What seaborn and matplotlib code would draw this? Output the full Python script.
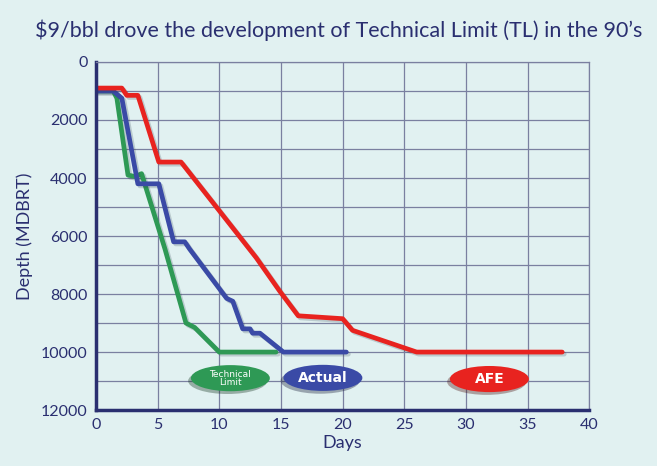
import pandas as pd
import seaborn as sns
import matplotlib.pyplot as plt
import matplotlib.patheffects as pe
from matplotlib.patches import Ellipse

# Data (days, depth MDBRT)
afe_days = [0, 2.1, 2.5, 3.4, 5.1, 6.9, 13.0, 14.9, 16.4, 20.0, 20.8, 26.0, 37.8]
afe_depth = [900, 900, 1150, 1150, 3450, 3450, 6750, 7900, 8750, 8850, 9250, 10000, 10000]

actual_days = [0, 1.4, 2.1, 3.4, 5.1, 6.3, 7.2, 7.6, 10.6, 11.1, 11.9, 12.5, 12.7, 13.3, 15.2, 20.3]
actual_depth = [1000, 1000, 1250, 4200, 4200, 6200, 6200, 6450, 8150, 8250, 9200, 9200, 9350, 9350, 10000, 10000]

tl_days = [0, 1.4, 1.7, 2.6, 3.2, 3.7, 5.6, 7.3, 8.0, 10.0, 14.6]
tl_depth = [1000, 1000, 1250, 3900, 3950, 3850, 6450, 9000, 9150, 10000, 10000]

series = ['AFE', 'Actual', 'Technical Limit']
colors = {'AFE': '#e8231f', 'Actual': '#3a4aa6', 'Technical Limit': '#2e9955'}

df = pd.concat([
    pd.DataFrame({'Days': afe_days, 'Depth': afe_depth, 'series': 'AFE'}),
    pd.DataFrame({'Days': actual_days, 'Depth': actual_depth, 'series': 'Actual'}),
    pd.DataFrame({'Days': tl_days, 'Depth': tl_depth, 'series': 'Technical Limit'}),
])

bg = '#e1f1f1'
navy = '#2a2f70'
sns.set_style('white')
plt.rcParams['font.family'] = ['Lato', 'DejaVu Sans']

fig = plt.figure(figsize=(6.57, 4.66), dpi=100, facecolor=bg)
ax = fig.add_axes([0.146, 0.12, 0.751, 0.747], facecolor=bg)

shadow = [pe.SimpleLineShadow(offset=(1.5, -1.5), alpha=0.2, shadow_color='#223344'), pe.Normal()]
ax.set_axisbelow(True)
sns.lineplot(data=df, x='Days', y='Depth', hue='series', hue_order=series[::-1], palette=colors,
             units='series', estimator=None, sort=False, linewidth=3.4, legend=False, ax=ax,
             path_effects=shadow)

ax.set_xlim(0, 40)
ax.set_ylim(12000, 0)
ax.set_xticks(range(0, 41, 5))
ax.set_yticks(range(0, 12001, 2000))
ax.set_yticks(range(1000, 12000, 2000), minor=True)
ax.grid(True, which='both', color='#7a80a0', linewidth=0.9)
ax.tick_params(length=0, labelsize=11.5, labelcolor=navy, pad=6)
for s in ['left', 'bottom']:
    ax.spines[s].set_color(navy)
    ax.spines[s].set_linewidth(2.5)
for s in ['top', 'right']:
    ax.spines[s].set_color('#7a80a0')
    ax.spines[s].set_linewidth(0.9)

ax.set_xlabel('Days', fontsize=13, color=navy, labelpad=2)
ax.set_ylabel('Depth (MDBRT)', fontsize=13, color=navy, labelpad=6)
fig.text(0.515, 0.935, "$9/bbl drove the development of Technical Limit (TL) in the 90\u2019s",
         ha='center', va='center', fontsize=15.5, color=navy)

# Series labels as ellipses
labels = [('Technical Limit', 10.9, 10900, colors['Technical Limit'], 'Technical\nLimit', 6.5),
          ('Actual', 18.4, 10890, colors['Actual'], 'Actual', 10),
          ('AFE', 31.9, 10930, colors['AFE'], 'AFE', 10)]
for name, x, y, c, txt, fs in labels:
    e = Ellipse((x, y), 6.4, 900, facecolor=c, edgecolor='none',
                path_effects=[pe.SimplePatchShadow(offset=(-2, -2), alpha=0.35), pe.Normal()])
    ax.add_patch(e)
    ax.text(x, y, txt, ha='center', va='center', color='white', fontsize=fs,
            fontweight='normal' if name == 'Technical Limit' else 'bold',
            family=['DejaVu Sans'], linespacing=0.9)

fig.savefig('out.png', dpi=100, facecolor=bg)
